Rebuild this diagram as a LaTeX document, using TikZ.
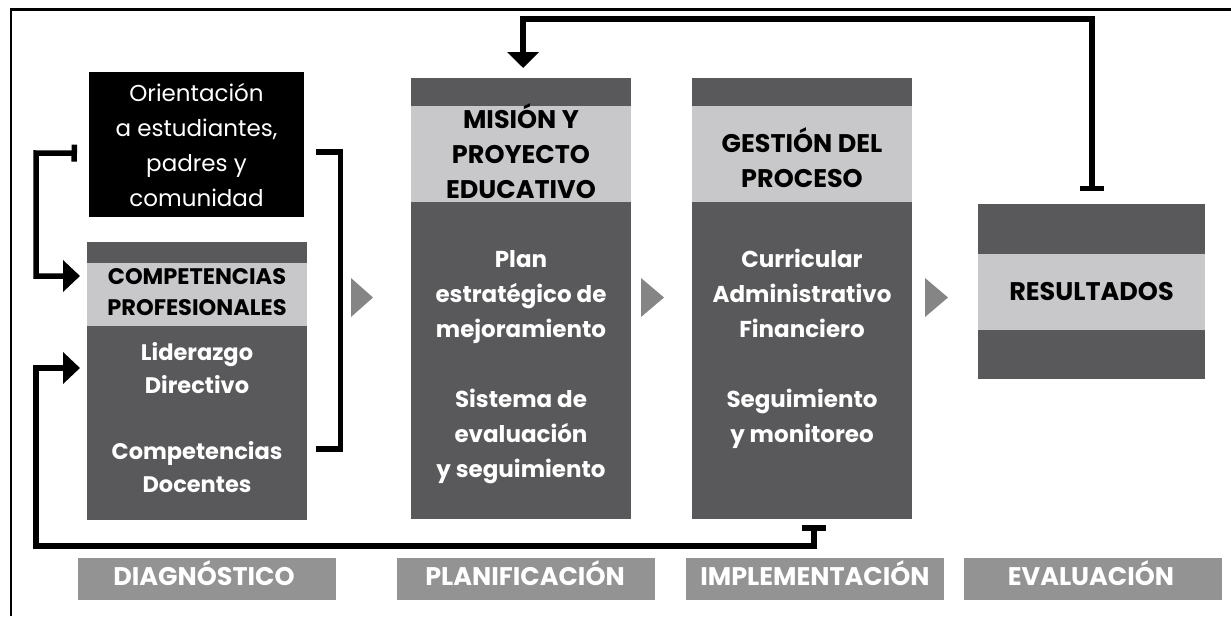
\documentclass[tikz,border=0pt]{standalone}
\usepackage{fontspec}
\setmainfont{Poppins}
\usetikzlibrary{arrows.meta}
\definecolor{darkbox}{HTML}{59595B}
\definecolor{lightbox}{HTML}{C8C8CA}
\definecolor{phasebox}{HTML}{939393}
\definecolor{tribox}{HTML}{858585}
\newcommand{\topstrut}{\rule{0pt}{26pt}}
\begin{document}
\begin{tikzpicture}[x=1pt,y=-1pt,
  panel/.style={fill=darkbox, draw=none, inner sep=0pt, anchor=north west},
  blackpanel/.style={fill=black, draw=none, inner sep=0pt, anchor=north west},
  strip/.style={fill=lightbox},
  phase/.style={fill=phasebox, inner sep=0pt, anchor=north west, minimum width=258pt, minimum height=42pt},
  phasetxt/.style={text=white, inner sep=0pt, anchor=north, font=\fontsize{25.5}{30}\selectfont\bfseries},
  headtxt/.style={text=black, align=center, inner sep=0pt, anchor=north, font=\fontsize{25.5}{35}\selectfont\bfseries},
  bodytxt/.style={text=white, align=center, inner sep=0pt, anchor=north, font=\fontsize{23}{35}\selectfont\bfseries},
  tri/.style={fill=tribox},
  fbline/.style={line width=5.5pt, draw=black, line join=miter}
]
\useasboundingbox (0,0) rectangle (1231,616);
\fill[white] (0,0) rectangle (1231,616);
% frame
\draw[line width=2.5pt] (11,616) -- (11,9.5) -- (1231,9.5);

% boxes
\node[blackpanel, minimum width=215pt, minimum height=145pt] (orient) at (89,72) {};
\node[panel, minimum width=220pt, minimum height=278pt] (comp) at (87,242) {};
\fill[strip] (87,263) rectangle (307,326);
\node[panel, minimum width=220pt, minimum height=441pt] (mision) at (411,78) {};
\fill[strip] (411,106) rectangle (631,202);
\node[panel, minimum width=220pt, minimum height=441pt] (gestion) at (692,78) {};
\fill[strip] (692,106) rectangle (912,202);
\node[panel, minimum width=227pt, minimum height=175pt] (result) at (978,204) {};
\fill[strip] (978,254) rectangle (1205,330);

% texts
\node[text=white, align=center, inner sep=0pt, anchor=north, font=\fontsize{23}{35}\selectfont] (orientT) at (196.5,75)
  {\topstrut Orientación\\ a estudiantes,\\ padres y\\ comunidad};
\node[headtxt, font=\fontsize{22.5}{31}\selectfont\bfseries] (compH) at (197,258) {\topstrut COMPETENCIAS\\ PROFESIONALES};
\node[bodytxt, font=\fontsize{22.5}{33}\selectfont\bfseries] (compB) at (197,334) {\topstrut Liderazgo\\ Directivo\\[33pt] Competencias\\ Docentes};
\node[headtxt] (misionH) at (521,102) {\topstrut MISIÓN Y\\ PROYECTO\\ EDUCATIVO};
\node[bodytxt] (misionB) at (521,241) {\topstrut Plan\\ estratégico de\\ mejoramiento\\[35pt] Sistema de\\ evaluación\\ y seguimiento};
\node[headtxt] (gestionH) at (802,126) {\topstrut GESTIÓN DEL\\ PROCESO};
\node[bodytxt] (gestionB) at (802,241) {\topstrut Curricular\\ Administrativo\\ Financiero\\[35pt] Seguimiento\\ y monitoreo};
\node[headtxt] (resultH) at (1091.5,274) {\topstrut RESULTADOS};

% phase labels
\node[phase] (diag) at (78,558) {};
\node[phase] (plan) at (397,558) {};
\node[phase] (impl) at (686,558) {};
\node[phase] (eval) at (964,558) {};
\node[phasetxt] (diagT) at (204,559) {\topstrut DIAGNÓSTICO};
\node[phasetxt] (planT) at (525,559) {\topstrut PLANIFICACIÓN};
\node[phasetxt] (implT) at (815,559) {\topstrut IMPLEMENTACIÓN};
\node[phasetxt] (evalT) at (1091,559) {\topstrut EVALUACIÓN};

% triangles
\fill[tri] (351,278) -- (373,297.5) -- (351,317) -- cycle;
\fill[tri] (641,278) -- (664,297.5) -- (641,317) -- cycle;
\fill[tri] (925,278) -- (948,297.5) -- (925,317) -- cycle;

% connectors
\coordinate (toprail) at (0,32);
\coordinate (leftrail) at (36,0);
\coordinate (botrail) at (0,546);
% top feedback: resultados -> mision
\draw[fbline, {Bar[width=24pt]}-{Triangle[width=31pt,length=16pt]}]
  ([xshift=0.5pt,yshift=13pt]result.north) -- ([xshift=0.5pt,yshift=13pt]result.north |- toprail)
  -| ([xshift=2pt,yshift=10pt]mision.north);
% left bracket: orientacion -> competencias
\draw[fbline, {Bar[width=17pt]}-{Triangle[width=31pt,length=17pt]}]
  ([xshift=-12pt,yshift=-8.5pt]orient.west) -- (leftrail |- 0,153)
  |- ([xshift=-7pt]comp.north west |- 0,276);
% right bracket
\draw[fbline, line cap=butt]
  ([xshift=12pt,yshift=-7.5pt]orient.east) -- ([xshift=36pt,yshift=-7.5pt]orient.east)
  |- ([xshift=9pt]comp.east |- 0,449);
% bottom feedback: gestion -> competencias
\draw[fbline, {Bar[width=24pt]}-{Triangle[width=31pt,length=17pt]}]
  ([xshift=12pt,yshift=-6pt]gestion.south) |- (leftrail |- botrail)
  |- ([xshift=-7pt]comp.north west |- 0,368);
\end{tikzpicture}
\end{document}
